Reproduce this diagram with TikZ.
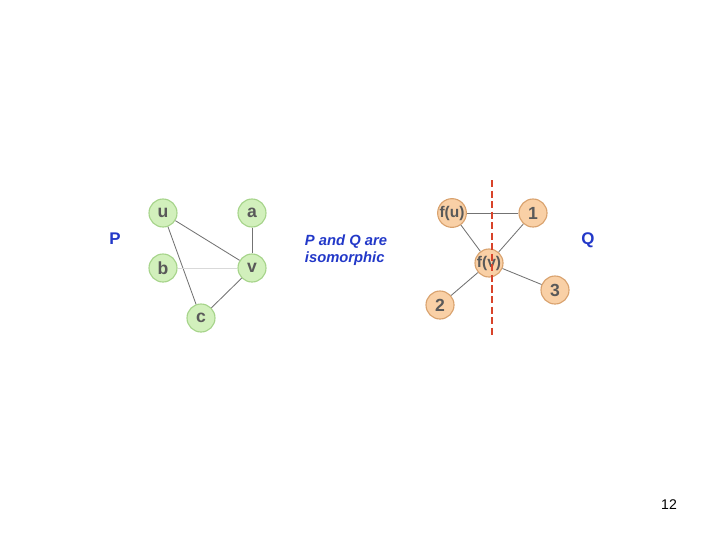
\documentclass[tikz,border=0pt]{standalone}
\usepackage{fontspec}
\setmainfont{Liberation Sans}[BoldFont={Liberation Sans Bold},ItalicFont={Liberation Sans Italic},BoldItalicFont={Liberation Sans Bold Italic}]
\usetikzlibrary{positioning}
\definecolor{pgreen}{HTML}{D2F0BC}
\definecolor{pgreenline}{HTML}{A6D48A}
\definecolor{qorange}{HTML}{F9D0A6}
\definecolor{qorangeline}{HTML}{D9A26E}
\definecolor{labelblue}{HTML}{2238C8}
\definecolor{cutred}{HTML}{D8432A}
\tikzset{
pnode/.style={
draw=pgreenline,
circle,
thick,
fill=pgreen,
minimum size=0.7cm,
inner sep=0pt,
font=\bfseries\fontsize{12.5}{12.5}\selectfont,
text=black!65
},
qnode/.style={
pnode,
draw=qorangeline,
fill=qorange
},
qsmall/.style={
font=\bfseries\fontsize{11}{11}\selectfont
},
edge/.style={
draw=black!55,
semithick
},
glabel/.style={
text=labelblue,
font=\bfseries\fontsize{12}{14}\selectfont
}
}
\begin{document}
\begin{tikzpicture}[x=0.025cm,y=-0.025cm]
\useasboundingbox (0,0) rectangle (720,540);
% graph P
\node[pnode] (u) at (163,213) {u};
\node[pnode] (a) at (252,213) {a};
\node[pnode] (b) at (163,268) {b};
\node[pnode] (v) at (252,268) {v};
\node[pnode] (c) at (201,318) {c};
\node[glabel] (plabel) at (115,239) {P};

\draw[edge] (u) -- (v);
\draw[edge] (u) -- (c);
\draw[edge] (a) -- (v);
\draw[draw=black!15, thin] (b) -- (v);
\draw[edge] (c) -- (v);

% middle text
\node[glabel, font=\bfseries\itshape\fontsize{10.5}{12}\selectfont, align=left] (iso) at (346,250) {P and Q are\\isomorphic};

% graph Q
\node[qnode, qsmall] (fu) at (452,213) {f(u)};
\node[qnode] (one) at (533,213) {1};
\node[qnode, qsmall] (fv) at (489,263) {f(v)};
\node[qnode] (two) at (440,305) {2};
\node[qnode] (three) at (555,290) {3};
\node[glabel] (qlabel) at (588,240) {Q};

\draw[edge] (fu) -- (one);
\draw[edge] (fu) -- (fv);
\draw[edge] (one) -- (fv);
\draw[edge] (fv) -- (two);
\draw[edge] (fv) -- (three);

% cut line
\coordinate (cuttop) at (492,180);
\coordinate (cutbot) at (492,337);
\draw[cutred, thick, dash pattern=on 5pt off 2.5pt] (cuttop) -- (cutbot);

% page number
\node[font=\fontsize{10}{10}\selectfont] (pagenum) at (669,505) {12};
\end{tikzpicture}
\end{document}
